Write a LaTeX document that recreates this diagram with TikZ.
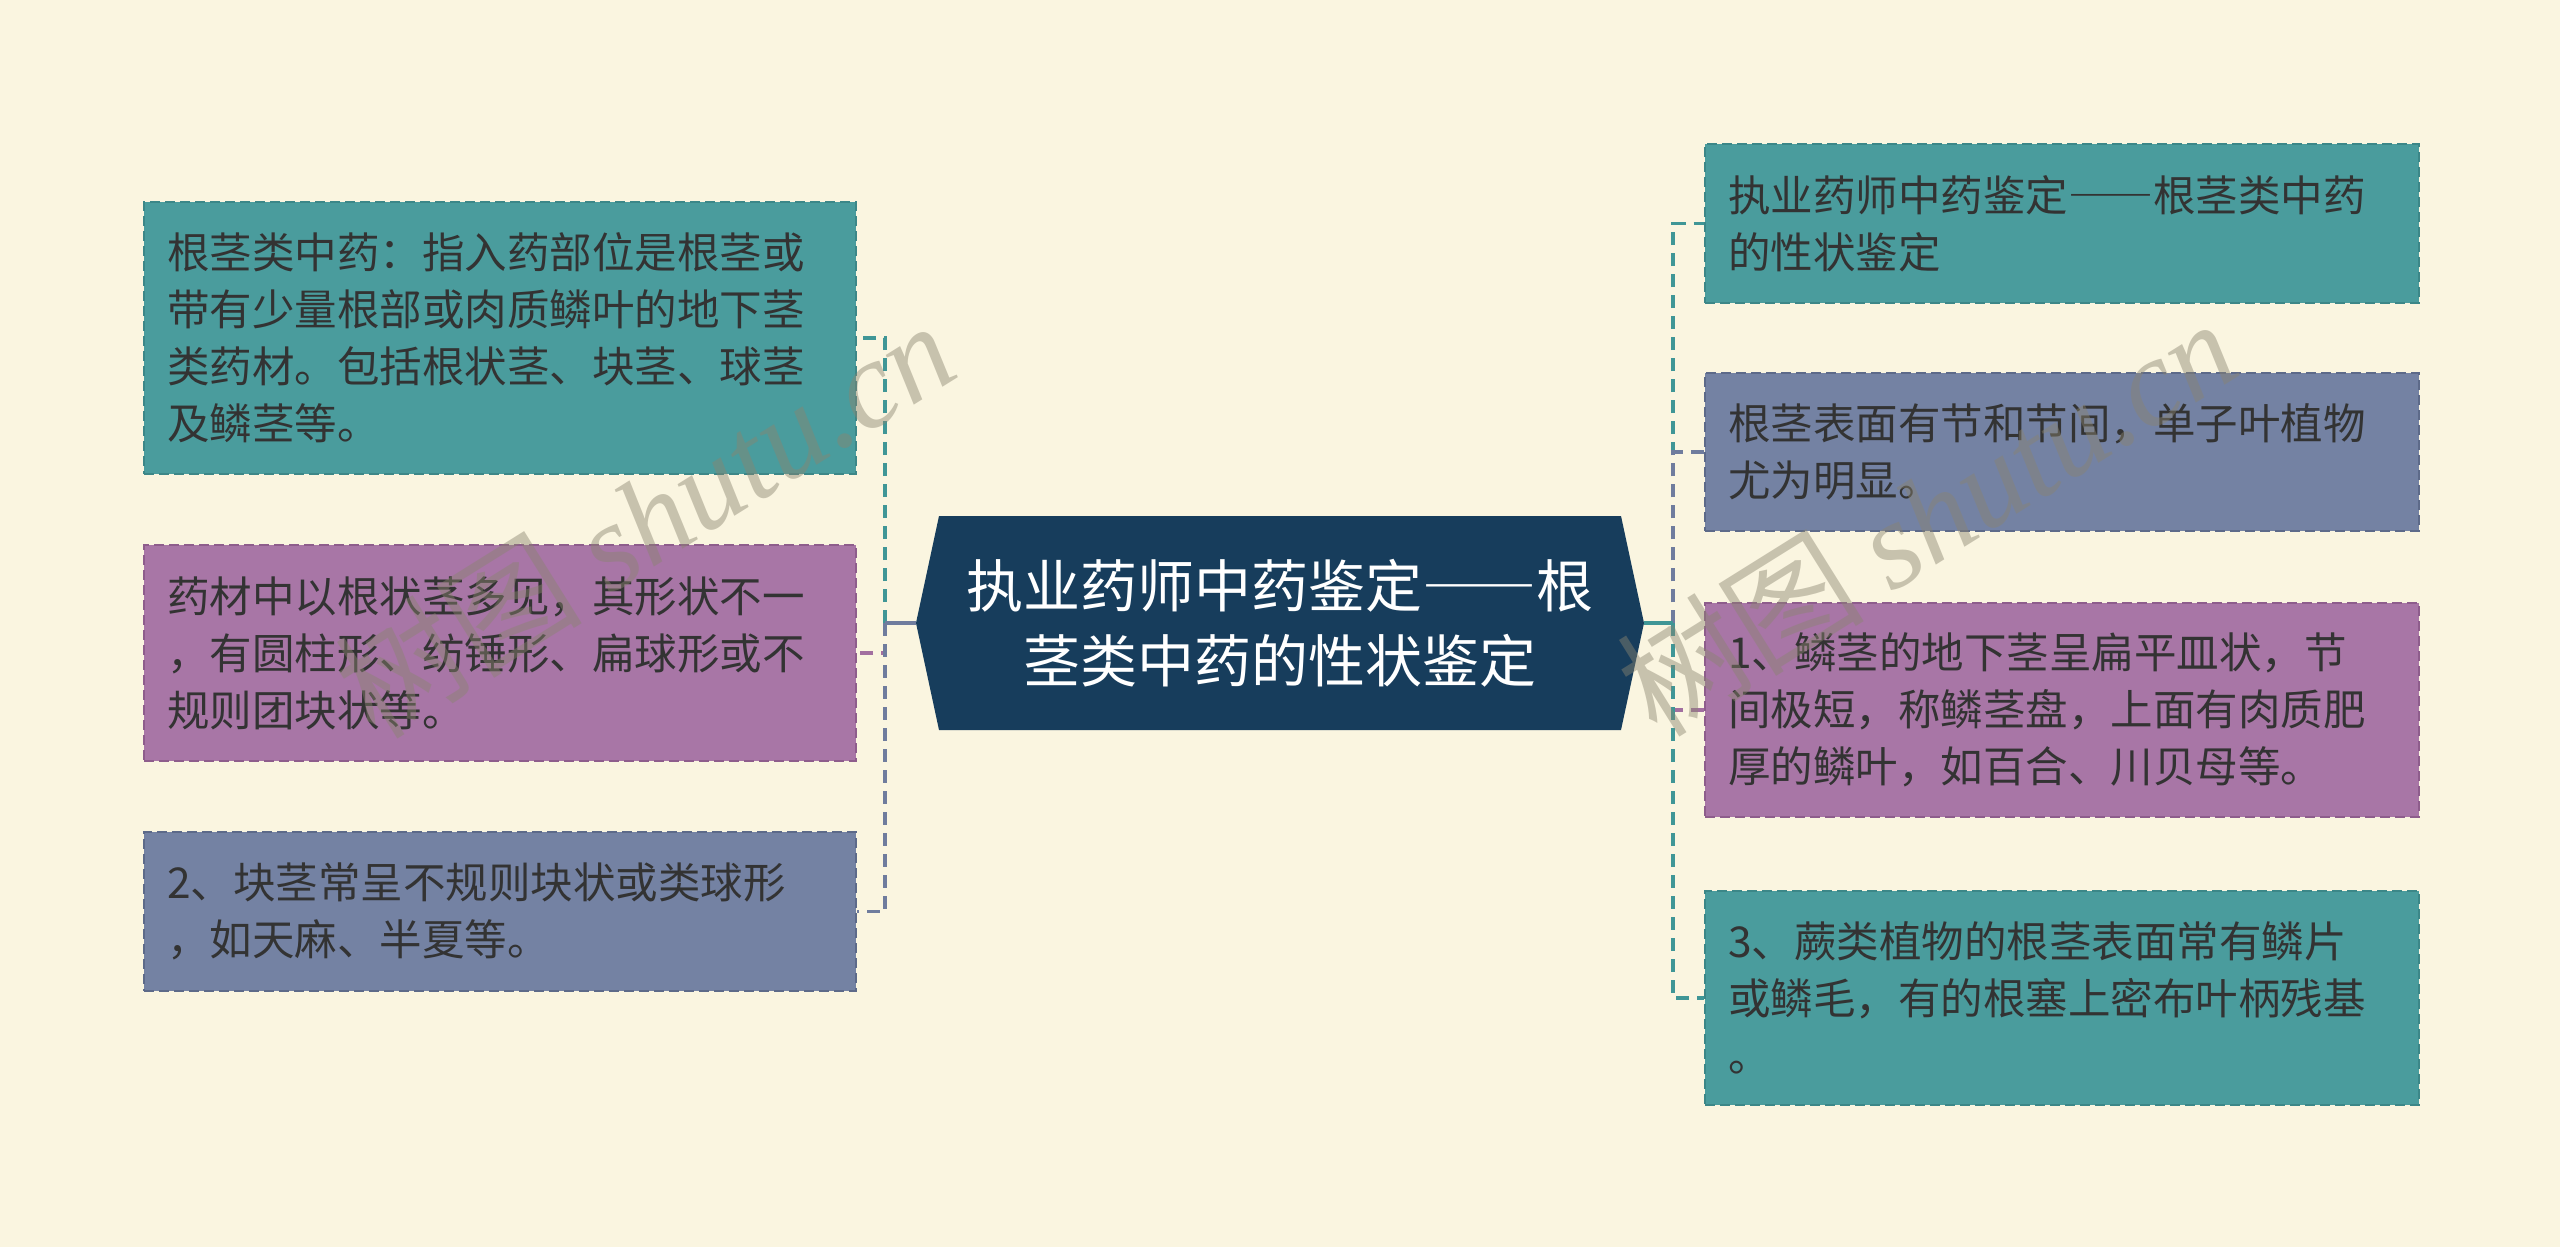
\documentclass[tikz,border=0pt]{standalone}
\usepackage{fontspec}
\setmainfont{Noto Sans CJK SC}
\newfontfamily\fwdash[RawFeature=+fwid]{Noto Sans CJK SC}
\newfontfamily\wmlatin{Liberation Serif}
\usetikzlibrary{calc}
\definecolor{bg}{HTML}{FAF5E0}
\definecolor{tealf}{HTML}{4A9C9D}
\definecolor{teald}{HTML}{3C8788}
\definecolor{purf}{HTML}{A876A6}
\definecolor{purd}{HTML}{8E5D8C}
\definecolor{grayf}{HTML}{7482A3}
\definecolor{grayd}{HTML}{5D6A89}
\definecolor{navy}{HTML}{173D5C}
\definecolor{txt}{HTML}{333333}
\definecolor{lteal}{HTML}{3F9696}
\definecolor{lgray}{HTML}{6F7C9D}
\definecolor{lpur}{HTML}{A26FA0}
\definecolor{wm}{HTML}{8A8470}
\tikzset{
  card/.style={rectangle, anchor=north west, inner xsep=23pt, inner ysep=0pt,
    align=left, text=txt, font=\fontsize{42.5}{57}\selectfont,
    line width=2pt, dash pattern=on 10pt off 5pt},
  tealbox/.style={card, fill=tealf, draw=teald},
  purbox/.style={card, fill=purf, draw=purd},
  graybox/.style={card, fill=grayf, draw=grayd},
  link/.style={line width=3.5pt, dash pattern=on 13pt off 8pt},
  stub/.style={line width=3.5pt},
  wmark/.style={text=wm, text opacity=0.45, rotate=32, font=\fontsize{124}{134}\selectfont}
}
\begin{document}
\begin{tikzpicture}[x=1pt,y=-1pt]
\fill[bg] (0,0) rectangle (2560,1247);
\useasboundingbox (0,0) rectangle (2560,1247);

% center hexagon
\fill[navy] (916,623) -- (939,516) -- (1621,516) -- (1644,623) -- (1621,730) -- (939,730) -- cycle;
\node[minimum width=728pt, minimum height=214pt, inner sep=0pt, align=center, text=white,
  font=\fontsize{57}{75}\selectfont] (c) at (1280,623) {执业药师中药鉴定{\fwdash ——}根\\茎类中药的性状鉴定};

% left boxes
\node[tealbox, text width=666pt, minimum height=272pt] (L1) at (143,201)
  {根茎类中药：指入药部位是根茎或\\带有少量根部或肉质鳞叶的地下茎\\类药材。包括根状茎、块茎、球茎\\及鳞茎等。};
\node[purbox, text width=666pt, minimum height=216pt] (L2) at (143,544)
  {药材中以根状茎多见，其形状不一\\，有圆柱形、纺锤形、扁球形或不\\规则团块状等。};
\node[graybox, text width=666pt, minimum height=159pt] (L3) at (143,831)
  {2、块茎常呈不规则块状或类球形\\，如天麻、半夏等。};

% right boxes
\node[tealbox, text width=668pt, minimum height=159pt] (R1) at (1704,143)
  {执业药师中药鉴定{\fwdash ——}根茎类中药\\的性状鉴定};
\node[graybox, text width=668pt, minimum height=158pt] (R2) at (1704,372)
  {根茎表面有节和节间，单子叶植物\\尤为明显。};
\node[purbox, text width=668pt, minimum height=214pt] (R3) at (1704,602)
  {1、鳞茎的地下茎呈扁平皿状，节\\间极短，称鳞茎盘，上面有肉质肥\\厚的鳞叶，如百合、川贝母等。};
\node[tealbox, text width=668pt, minimum height=214pt] (R4) at (1704,890)
  {3、蕨类植物的根茎表面常有鳞片\\或鳞毛，有的根塞上密布叶柄残基\\。};

% junctions
\coordinate (jl) at (885,623);
\coordinate (jr) at (1673,623);

% left connectors
\draw[link, lteal] (jl) |- (L1.east);
\draw[link, lpur] (jl) |- (L2.east);
\draw[link, lgray] (jl) |- (L3.east);
\draw[stub, lgray] (c.west) -- (jl);

% right connectors
\draw[link, lteal] (jr) |- (R1.west);
\draw[link, lgray] (jr) |- (R2.west);
\draw[link, lpur] (jr) |- (R3.west);
\draw[link, lteal] (jr) |- (R4.west);
\draw[stub, lteal] (c.east) -- (jr);

% watermarks
\node[wmark] (w1) at (644,518) {树图 {\wmlatin\itshape shutu.cn}};
\node[wmark] (w2) at (1926,516) {树图 {\wmlatin\itshape shutu.cn}};
\end{tikzpicture}
\end{document}
